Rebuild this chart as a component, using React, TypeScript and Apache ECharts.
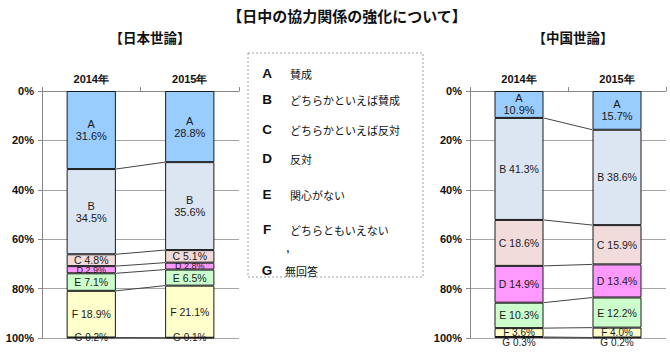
import React, { useEffect, useRef } from 'react';
import * as echarts from 'echarts';

const categories = ['2014年', '2015年'];
const letters = ['A', 'B', 'C', 'D', 'E', 'F', 'G'];
const descriptions = ['賛成', 'どちらかといえば賛成', 'どちらかといえば反対', '反対', '関心がない', 'どちらともいえない', '無回答'];
const japan2014 = [31.6, 34.5, 4.8, 2.9, 7.1, 18.9, 0.2];
const japan2015 = [28.8, 35.6, 5.1, 2.8, 6.5, 21.1, 0.1];
const china2014 = [10.9, 41.3, 18.6, 14.9, 10.3, 3.6, 0.3];
const china2015 = [15.7, 38.6, 15.9, 13.4, 12.2, 4.0, 0.2];

const colors = ['#99CCFF', '#DCE6F2', '#F2DCDB', '#FF99FF', '#CCFFCC', '#FFFFCC', '#FFFFCC'];
const SANS = '"Liberation Sans", Arial, sans-serif';
const CJK = '"Noto Sans CJK JP", sans-serif';

function cumulative(arr: number[]) {
  const out: number[] = [];
  let s = 0;
  arr.forEach((v) => { s += v; out.push(Math.round(s * 10) / 10); });
  return out;
}

function makeSeries(gi: number, d0: number[], d1: number[], multiLine: string[], fontSizes: Record<string, number>, offsets: Record<string, number[]>) {
  const series: any[] = letters.map((L, i) => ({
    type: 'bar',
    name: L,
    xAxisIndex: gi,
    yAxisIndex: gi,
    stack: 'g' + gi,
    barWidth: '50%',
    data: [d0[i], d1[i]],
    itemStyle: { color: colors[i], borderColor: '#1a1a1a', borderWidth: 1 },
    label: {
      show: true,
      position: 'inside',
      fontFamily: SANS,
      fontSize: fontSizes[L] || 10,
      lineHeight: (fontSizes[L] || 10) + 1,
      color: '#1a1a1a',
      offset: offsets[L] || [0, 0],
      formatter: (p: any) => L + (multiLine.includes(L) ? '\n' : ' ') + p.value.toFixed(1) + '%',
    },
  }));
  const c0 = cumulative(d0);
  const c1 = cumulative(d1);
  series.push({
    type: 'custom',
    xAxisIndex: gi,
    yAxisIndex: gi,
    clip: false,
    z: 1,
    encode: { x: 0, y: 1 },
    data: c0.map((v, i) => [0, v, c1[i]]),
    renderItem: (_params: any, api: any) => {
      const p0 = api.coord([0, api.value(1)]);
      const p1 = api.coord([1, api.value(2)]);
      const half = api.size([1, 0])[0] * 0.25;
      return {
        type: 'line',
        shape: { x1: p0[0] + half, y1: p0[1], x2: p1[0] - half, y2: p1[1] },
        style: { stroke: '#444', lineWidth: 1 },
      };
    },
  });
  return series;
}

const legendY = [73, 99, 129, 158, 194, 229, 270];

export default function App() {
  const ref = useRef<HTMLDivElement>(null);
  useEffect(() => {
    if (!ref.current) return;
    const chart = echarts.init(ref.current, null, { renderer: 'svg' });
    const xAxis = (gi: number) => ({
      type: 'category',
      gridIndex: gi,
      position: 'top',
      data: categories,
      axisLine: { lineStyle: { color: '#888' } },
      axisTick: { show: true, lineStyle: { color: '#888' }, length: 4 },
      axisLabel: { fontFamily: SANS, fontSize: 11, fontWeight: 'bold', color: '#111', margin: 7 },
    });
    const yAxis = (gi: number) => ({
      type: 'value',
      gridIndex: gi,
      inverse: true,
      min: 0,
      max: 100,
      interval: 20,
      axisLine: { show: true, lineStyle: { color: '#888' } },
      axisTick: { show: true, lineStyle: { color: '#888' }, length: 4 },
      axisLabel: { formatter: '{value}%', fontFamily: SANS, fontSize: 11, fontWeight: 'bold', color: '#111', margin: 8 },
      splitLine: { lineStyle: { color: '#A6A6A6' } },
    });
    const graphics: any[] = [
      { type: 'text', x: 347, y: 15, style: { text: '【日中の協力関係の強化について】', font: `bold 15px ${CJK}`, fill: '#111', textAlign: 'center', textVerticalAlign: 'middle' } },
      { type: 'text', x: 150, y: 37, style: { text: '【日本世論】', font: `bold 13.5px ${CJK}`, fill: '#111', textAlign: 'center', textVerticalAlign: 'middle' } },
      { type: 'text', x: 573, y: 37, style: { text: '【中国世論】', font: `bold 13.5px ${CJK}`, fill: '#111', textAlign: 'center', textVerticalAlign: 'middle' } },
      { type: 'rect', shape: { x: 248, y: 53, width: 175, height: 224 }, style: { fill: 'none', stroke: '#A0A0A0', lineWidth: 1, lineDash: [2, 2] } },
      { type: 'text', x: 288, y: 248, style: { text: ',', font: `bold 10px ${SANS}`, fill: '#111', textAlign: 'center', textVerticalAlign: 'middle' } },
    ];
    letters.forEach((L, i) => {
      graphics.push({ type: 'text', x: 267, y: legendY[i], style: { text: L, font: `bold 13.5px ${SANS}`, fill: '#111', textAlign: 'center', textVerticalAlign: 'middle' } });
      graphics.push({ type: 'text', x: i === 6 ? 285 : 290, y: legendY[i] + 1, style: { text: descriptions[i], font: `11px ${CJK}`, fill: '#111', textAlign: 'left', textVerticalAlign: 'middle' } });
    });
    chart.setOption({
      animation: false,
      grid: [
        { left: 42, top: 91, width: 197, height: 247 },
        { left: 470, top: 91, width: 196, height: 247 },
      ],
      xAxis: [xAxis(0), xAxis(1)],
      yAxis: [yAxis(0), yAxis(1)],
      series: [
        ...makeSeries(0, japan2014, japan2015, ['A', 'B'], { A: 11, B: 11, C: 10.5, D: 9, E: 10.5, F: 10.5, G: 10 }, {}),
        ...makeSeries(1, china2014, china2015, ['A'], { A: 11, B: 10.5, C: 10.5, D: 10.5, E: 10.5, F: 10, G: 10 }, { G: [0, 5] }),
      ],
      graphic: graphics,
    });
    return () => chart.dispose();
  }, []);
  return <div ref={ref} style={{ position: 'absolute', left: 0, top: 0, width: 670, height: 361 }} />;
}
